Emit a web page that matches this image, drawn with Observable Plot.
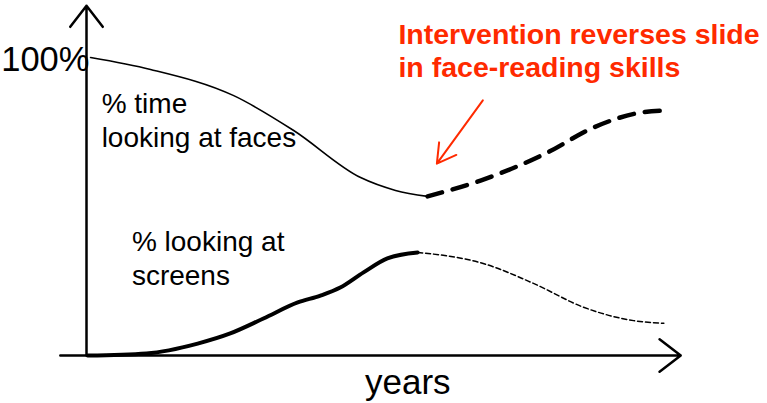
<!DOCTYPE html>
<html>
<head>
<meta charset="utf-8">
<script src="https://cdn.jsdelivr.net/npm/d3@7"></script>
<script src="https://cdn.jsdelivr.net/npm/@observablehq/plot@0.6"></script>
<style>
  html, body { margin: 0; padding: 0; background: #fff; }
  #chart svg { display: block; }
</style>
</head>
<body>
<div id="chart"></div>
<script>
// Faces: % time looking at faces (solid = observed, dashed = after intervention)
const facesYears       = [0.07, 1.10, 2.53, 3.56, 4.71, 5.31, 5.86];
const facesPct         = [100, 96.0, 87.2, 75.5, 59.7, 55.4, 53.4];
const facesFutureYears = [5.86, 6.77, 7.92, 8.71, 9.52, 9.95];
const facesFuturePct   = [53.4, 58.7, 68.1, 76.5, 81.5, 82.2];

// Screens: % looking at screens
const screensYears       = [0.02, 1.03, 1.91, 2.47, 3.04, 3.63, 4.02, 4.36, 4.76, 5.17, 5.69];
const screensPct         = [0, 0.7, 4.0, 7.4, 12.4, 17.8, 20.1, 22.8, 27.9, 32.6, 34.6];
const screensFutureYears = [5.69, 6.83, 7.69, 8.54, 9.40, 9.92];
const screensFuturePct   = [34.6, 30.8, 24.1, 16.2, 11.7, 10.8];

// Text labels
const labelTexts = ["100%", "% time\nlooking at faces", "% looking at\nscreens", "years"];
const labelYears = [0, 0.26, 0.78, 5.52];
const labelPct   = [95.6, 69.8, 23.5, -12.9];

const noteText  = "Intervention reverses slide\nin face-reading skills";
const noteYears = 5.36;
const notePct   = 93.4;
// annotation arrow (from, to)
const noteArrow = {fromYear: 6.81, fromPct: 85.6, toYear: 6.02, toPct: 64.4};

// axis extents
const axisXStart = -0.45, axisXEnd = 10.21, axisYTop = 117.4;

const toRows = (xs, ys) => xs.map((x, i) => ({x, y: ys[i]}));
const faces = toRows(facesYears, facesPct);
const facesFuture = toRows(facesFutureYears, facesFuturePct);
const screens = toRows(screensYears, screensPct);
const screensFuture = toRows(screensFutureYears, screensFuturePct);
const labels = labelTexts.map((t, i) => ({t, x: labelYears[i], y: labelPct[i]}));

const font = "Liberation Sans, Arial, Helvetica, sans-serif";
const curve = "monotone-x";

const chart = Plot.plot({
  width: 767,
  height: 403,
  margin: 0,
  x: {domain: [0, 10], range: [86, 668], axis: null},
  y: {domain: [0, 100], range: [355, 57], axis: null},
  style: {fontFamily: font, background: "#fff"},
  marks: [
    // axes with arrowheads
    Plot.arrow([{x1: axisXStart, y1: 0, x2: axisXEnd, y2: 0}], {
      x1: "x1", y1: "y1", x2: "x2", y2: "y2",
      stroke: "#000", strokeWidth: 2.5, headLength: 16, headAngle: 75
    }),
    Plot.arrow([{x1: 0, y1: 0, x2: 0, y2: axisYTop}], {
      x1: "x1", y1: "y1", x2: "x2", y2: "y2",
      stroke: "#000", strokeWidth: 2.5, headLength: 16, headAngle: 75
    }),
    // faces
    Plot.line(faces, {x: "x", y: "y", curve, stroke: "#000", strokeWidth: 1.6}),
    Plot.line(facesFuture, {x: "x", y: "y", curve, stroke: "#000", strokeWidth: 4.5, strokeDasharray: "15,11"}),
    // screens
    Plot.line(screens, {x: "x", y: "y", curve, stroke: "#000", strokeWidth: 4}),
    Plot.line(screensFuture, {x: "x", y: "y", curve, stroke: "#000", strokeWidth: 1.5, strokeDasharray: "5,3"}),
    // annotation arrow
    Plot.arrow([noteArrow], {
      x1: "fromYear", y1: "fromPct", x2: "toYear", y2: "toPct",
      stroke: "#ff2a00", strokeWidth: 2, headLength: 16, headAngle: 60
    }),
    // labels
    Plot.text(labels.filter(d => d.t === "100%"), {
      x: "x", y: "y", text: "t", textAnchor: "end", lineAnchor: "bottom",
      fontSize: 34.5, fill: "#000", dx: 3
    }),
    Plot.text(labels.filter(d => d.t === "years"), {
      x: "x", y: "y", text: "t", textAnchor: "middle", lineAnchor: "bottom",
      fontSize: 35, fill: "#000"
    }),
    Plot.text(labels.filter(d => d.t !== "100%" && d.t !== "years"), {
      x: "x", y: "y", text: "t", textAnchor: "start", lineAnchor: "bottom",
      fontSize: 28, lineHeight: 1.22, fill: "#000"
    }),
    Plot.text([{t: noteText, x: noteYears, y: notePct}], {
      x: "x", y: "y", text: "t", textAnchor: "start", lineAnchor: "bottom",
      fontSize: 28.5, fontWeight: "bold", lineHeight: 1.16, fill: "#ff2a00"
    })
  ]
});
document.getElementById("chart").appendChild(chart);
</script>
</body>
</html>
